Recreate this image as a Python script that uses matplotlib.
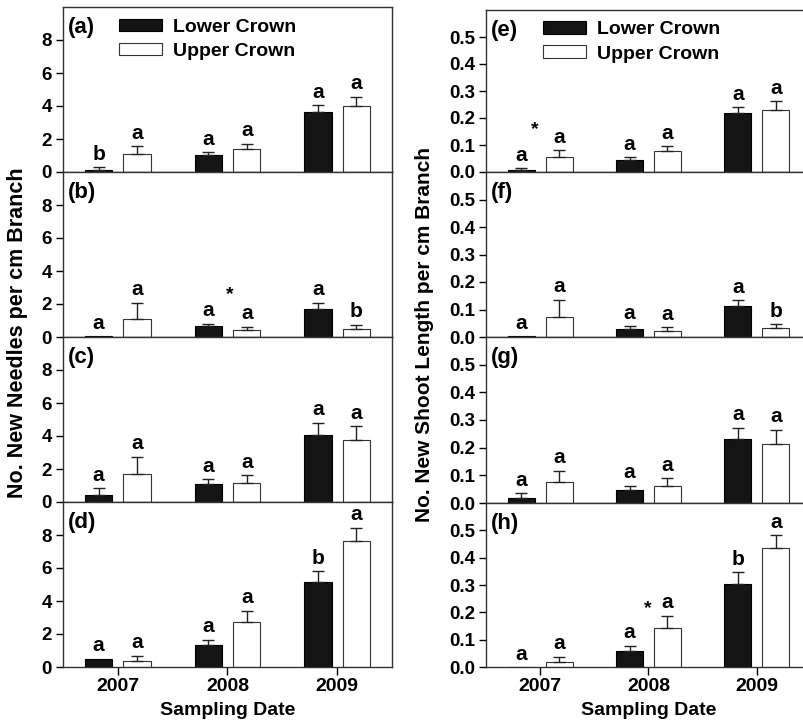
import matplotlib
matplotlib.use("Agg")
import matplotlib.pyplot as plt
import numpy as np

plt.rcParams['font.family'] = ['Liberation Sans', 'DejaVu Sans']
plt.rcParams['font.weight'] = 'bold'

years = ['2007', '2008', '2009']

# Needles (left column) panels a-d
needles_lower = {'a': [0.15, 1.05, 3.65], 'b': [0.04, 0.65, 1.70],
                 'c': [0.45, 1.10, 4.05], 'd': [0.50, 1.35, 5.15]}
needles_lower_err = {'a': [0.13, 0.15, 0.40], 'b': [0.0, 0.14, 0.37],
                     'c': [0.38, 0.28, 0.75], 'd': [0.0, 0.30, 0.65]}
needles_upper = {'a': [1.10, 1.40, 4.00], 'b': [1.10, 0.40, 0.50],
                 'c': [1.70, 1.15, 3.75], 'd': [0.35, 2.70, 7.65]}
needles_upper_err = {'a': [0.45, 0.30, 0.55], 'b': [0.97, 0.22, 0.25],
                     'c': [1.05, 0.47, 0.85], 'd': [0.33, 0.70, 0.80]}

# Shoot length (right column) panels e-h
shoot_lower = {'e': [0.008, 0.046, 0.218], 'f': [0.003, 0.030, 0.112],
               'g': [0.018, 0.048, 0.233], 'h': [0.0, 0.059, 0.304]}
shoot_lower_err = {'e': [0.005, 0.009, 0.022], 'f': [0.0, 0.010, 0.022],
                   'g': [0.018, 0.015, 0.039], 'h': [0.0, 0.018, 0.042]}
shoot_upper = {'e': [0.056, 0.076, 0.230], 'f': [0.072, 0.022, 0.034],
               'g': [0.075, 0.061, 0.215], 'h': [0.019, 0.142, 0.437]}
shoot_upper_err = {'e': [0.025, 0.020, 0.032], 'f': [0.063, 0.013, 0.012],
                   'g': [0.041, 0.028, 0.050], 'h': [0.018, 0.046, 0.046]}

letters_lower = {'a': ['b', 'a', 'a'], 'b': ['a', 'a', 'a'], 'c': ['a', 'a', 'a'],
                 'd': ['a', 'a', 'b'], 'e': ['a', 'a', 'a'], 'f': ['a', 'a', 'a'],
                 'g': ['a', 'a', 'a'], 'h': ['a', 'a', 'b']}
letters_upper = {'a': ['a', 'a', 'a'], 'b': ['a', 'a', 'b'], 'c': ['a', 'a', 'a'],
                 'd': ['a', 'a', 'a'], 'e': ['a', 'a', 'a'], 'f': ['a', 'a', 'b'],
                 'g': ['a', 'a', 'a'], 'h': ['a', 'a', 'a']}

# asterisks (x in category units, y baseline in data units)
asterisks = {'b': (1.02, 2.3), 'e': (-0.05, 0.14), 'h': (0.99, 0.198)}

W, H = 804, 720
fig = plt.figure(figsize=(W / 100, H / 100), dpi=100)

def px_axes(x0, x1, ytop, ybot):
    return fig.add_axes([x0 / W, 1 - ybot / H, (x1 - x0) / W, (ybot - ytop) / H])

left_rows = [(7, 172), (172, 337), (337, 502), (502, 667)]
right_rows = [(10, 172), (172, 337), (337, 503), (503, 667)]

x = np.arange(len(years))
bw = 0.25
off = 0.175

def draw_panel(ax, key, lo, loe, up, upe, ymax, yticks, ytickfmt, bottom):
    ax.bar(x - off, lo, bw, color='#141414', edgecolor='black', linewidth=0.8,
           label='Lower Crown', zorder=2)
    ax.bar(x + off, up, bw, color='white', edgecolor='#333333', linewidth=0.8,
           label='Upper Crown', zorder=2)
    for xs, v, e in ((x - off, lo, loe), (x + off, up, upe)):
        for xi, vi, ei in zip(xs, v, e):
            if ei > 0:
                ax.errorbar(xi, vi, yerr=[[0], [ei]], fmt='none', ecolor='#222222',
                            elinewidth=1.0, capsize=4.5, capthick=1.0, zorder=3)
    for xs, v, e, lab in ((x - off, lo, loe, letters_lower[key]),
                          (x + off, up, upe, letters_upper[key])):
        for xi, vi, ei, l in zip(xs, v, e, lab):
            ax.annotate(l, (xi, vi + ei), xytext=(0, 2.5), textcoords='offset points',
                        ha='center', va='bottom', fontsize=15, fontweight='bold')
    if key in asterisks:
        ax_, ay_ = asterisks[key]
        ax.text(ax_, ay_, '*', ha='center', va='baseline', fontsize=14, fontweight='bold')
    ax.set_xlim(-0.5, 2.5)
    ax.set_ylim(0, ymax)
    ax.set_yticks(yticks)
    ax.set_yticklabels([ytickfmt(t) for t in yticks])
    ax.set_xticks(x)
    ax.tick_params(axis='y', direction='out', length=5, width=1, labelsize=13.5, pad=3)
    ax.tick_params(axis='x', direction='out', length=6, width=1, labelsize=14, pad=2)
    for s in ax.spines.values():
        s.set_linewidth(1.0)
        s.set_color('#333333')
    if bottom:
        ax.set_xticklabels(years)
        ax.set_xlabel('Sampling Date', fontsize=14, fontweight='bold', labelpad=5)
    else:
        ax.set_xticklabels([])
    ax.text(0.015, 0.94, '(%s)' % key, transform=ax.transAxes, ha='left', va='top',
            fontsize=16, fontweight='bold')

def add_legend(ax, xa):
    ax.legend(loc='upper left', bbox_to_anchor=(xa, 0.93), frameon=False,
              handlelength=2.2, handleheight=0.62, handletextpad=0.6,
              labelspacing=0.36, borderpad=0, borderaxespad=0,
              prop={'weight': 'bold', 'size': 14})

left_keys = ['a', 'b', 'c', 'd']
right_keys = ['e', 'f', 'g', 'h']
for i, k in enumerate(left_keys):
    ax = px_axes(63, 392, *left_rows[i])
    draw_panel(ax, k, needles_lower[k], needles_lower_err[k], needles_upper[k],
               needles_upper_err[k], 10, [0, 2, 4, 6, 8], lambda t: '%d' % t, i == 3)
    if i == 0:
        add_legend(ax, 0.17)
for i, k in enumerate(right_keys):
    ax = px_axes(486, 811, *right_rows[i])
    draw_panel(ax, k, shoot_lower[k], shoot_lower_err[k], shoot_upper[k],
               shoot_upper_err[k], 0.6, [0, 0.1, 0.2, 0.3, 0.4, 0.5],
               lambda t: '%.1f' % t, i == 3)
    if i == 0:
        add_legend(ax, 0.175)

fig.text(18 / W, 1 - 333 / H, 'No. New Needles per cm Branch', rotation=90,
         ha='center', va='center', fontsize=15.5, fontweight='bold')
fig.text(425 / W, 1 - 335 / H, 'No. New Shoot Length per cm Branch', rotation=90,
         ha='center', va='center', fontsize=15, fontweight='bold')

fig.savefig('out.png', dpi=100)
